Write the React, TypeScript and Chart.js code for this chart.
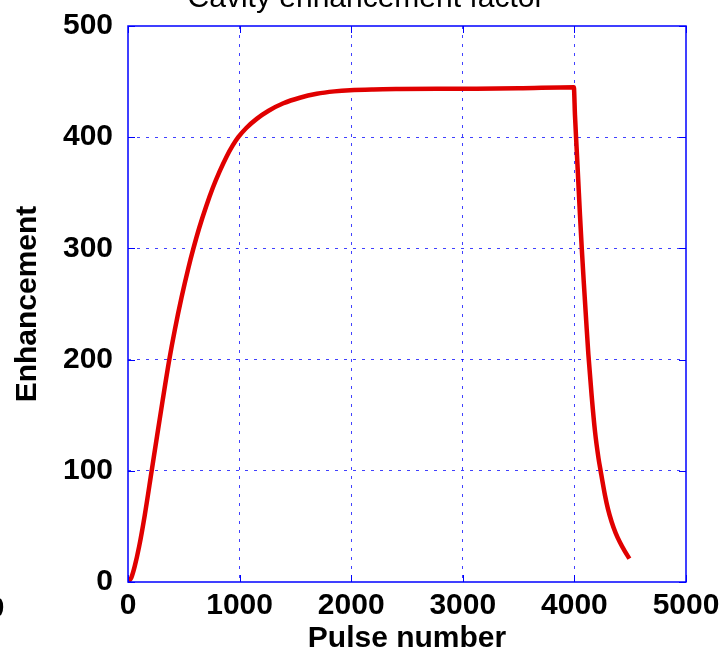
import React, { useEffect, useRef } from "react";
import { Chart, registerables } from "chart.js";

Chart.register(...registerables);

const titleText = "Cavity enhancement factor";
const xTitle = "Pulse number";
const yTitle = "Enhancement";
const xTicks = [0, 1000, 2000, 3000, 4000, 5000];
const yTicks = [0, 100, 200, 300, 400, 500];

const pulses = [
  0, 30, 60, 100, 150, 212, 260, 310, 370, 420, 480, 540, 585, 640, 700, 760, 820, 884, 940, 988, 1060, 1153,
  1260, 1392, 1540, 1691, 1850, 1989, 2200, 2437, 3000, 3500, 3995, 4005, 4020, 4035, 4050, 4066, 4085, 4105, 4125,
  4155, 4185, 4215, 4235, 4274, 4300, 4334, 4370, 4409, 4450, 4493,
];
const enhancement = [
  0, 4, 14, 32, 60, 100, 131, 163, 200, 227, 256, 282, 299.5, 319, 337.7, 354.5, 369, 382.7, 392.8, 400, 408.3, 416.5,
  423.8, 430.5, 435.5, 439, 441.2, 442.3, 443, 443.3, 443.6, 444, 445, 420, 390, 360, 330, 300, 268, 236, 205,
  167, 135, 112, 100, 78, 66, 54, 44, 35.5, 28, 21,
];

const BLUE = "#0000ff";
const RED = "#e00000";
const FONT = "'Liberation Sans', Arial, sans-serif";

const framePlugin = {
  id: "frame",
  afterDatasetsDraw(chart: any) {
    const { ctx, chartArea } = chart;
    const { left, right, top, bottom } = chartArea;
    const xs = chart.scales.x;
    const ys = chart.scales.y;
    ctx.save();
    ctx.strokeStyle = BLUE;
    ctx.lineWidth = 1.5;
    ctx.setLineDash([]);
    ctx.strokeRect(left, top, right - left, bottom - top);
    const tl = 7;
    ctx.lineWidth = 1;
    ctx.beginPath();
    for (const v of xTicks) {
      const p = Math.round(xs.getPixelForValue(v)) + 0.5;
      ctx.moveTo(p, bottom);
      ctx.lineTo(p, bottom - tl);
      ctx.moveTo(p, top);
      ctx.lineTo(p, top + tl);
    }
    for (const v of yTicks) {
      const p = Math.round(ys.getPixelForValue(v)) + 0.5;
      ctx.moveTo(left, p);
      ctx.lineTo(left + tl, p);
      ctx.moveTo(right, p);
      ctx.lineTo(right - tl, p);
    }
    ctx.stroke();
    ctx.restore();
  },
  afterDraw(chart: any) {
    const { ctx } = chart;
    ctx.save();
    ctx.fillStyle = "#000";
    ctx.font = `30px ${FONT}`;
    ctx.textAlign = "center";
    ctx.textBaseline = "alphabetic";
    ctx.fillText(titleText, 366, 7);
    ctx.font = `bold 30px ${FONT}`;
    ctx.fillText("0", -4, 617);
    ctx.restore();
  },
};

export default function App() {
  const ref = useRef<HTMLCanvasElement>(null);
  useEffect(() => {
    if (!ref.current) return;
    const data = pulses.map((p, i) => ({ x: p, y: enhancement[i] }));
    const chart = new Chart(ref.current, {
      type: "line",
      data: {
        datasets: [
          {
            data,
            borderColor: RED,
            backgroundColor: RED,
            borderWidth: 4.5,
            pointRadius: 0,
            cubicInterpolationMode: "monotone",
            fill: false,
          },
        ],
      },
      options: {
        animation: false,
        responsive: false,
        maintainAspectRatio: false,
        layout: { padding: { top: 26, right: 37, left: 0, bottom: 0 } },
        plugins: { legend: { display: false }, title: { display: false }, tooltip: { enabled: false } },
        scales: {
          x: {
            type: "linear",
            min: 0,
            max: 5000,
            afterBuildTicks: (s: any) => {
              s.ticks = xTicks.map((v) => ({ value: v }));
            },
            afterFit: (s: any) => {
              s.height = 75;
              s.paddingLeft = 0;
              s.paddingRight = 0;
            },
            ticks: {
              font: { family: FONT, size: 30, weight: "bold" },
              color: "#000",
              padding: 6,
              maxRotation: 0,
              autoSkip: false,
              callback: (v: any) => String(v),
            },
            grid: {
              color: (c: any) => (c.tick && (c.tick.value === 0 || c.tick.value === 5000) ? "rgba(0,0,0,0)" : "rgba(0,0,255,0.75)"),
              lineWidth: 1,
              drawTicks: false,
              tickLength: 0,
            },
            border: { display: false, dash: [3, 6] },
            title: {
              display: true,
              text: xTitle,
              color: "#000",
              font: { family: FONT, size: 30, weight: "bold" },
              padding: { top: 0, bottom: 0 },
            },
          },
          y: {
            type: "linear",
            min: 0,
            max: 500,
            afterBuildTicks: (s: any) => {
              s.ticks = yTicks.map((v) => ({ value: v }));
            },
            afterFit: (s: any) => {
              s.width = 128;
              s.paddingTop = 0;
              s.paddingBottom = 0;
            },
            ticks: {
              font: { family: FONT, size: 30, weight: "bold" },
              color: "#000",
              padding: 15,
              autoSkip: false,
              callback: (v: any) => String(v),
            },
            grid: {
              color: (c: any) => (c.tick && (c.tick.value === 0 || c.tick.value === 500) ? "rgba(0,0,0,0)" : "rgba(0,0,255,0.75)"),
              lineWidth: 1,
              drawTicks: false,
              tickLength: 0,
            },
            border: { display: false, dash: [3, 6] },
            title: {
              display: true,
              text: yTitle,
              color: "#000",
              font: { family: FONT, size: 30, weight: "bold" },
              padding: { top: 10, bottom: 0 },
            },
          },
        },
      },
      plugins: [framePlugin],
    });
    return () => chart.destroy();
  }, []);
  return (
    <div style={{ position: "absolute", left: 0, top: 0, width: 723, height: 657, background: "#fff" }}>
      <canvas ref={ref} width={723} height={657} style={{ display: "block" }} />
    </div>
  );
}
